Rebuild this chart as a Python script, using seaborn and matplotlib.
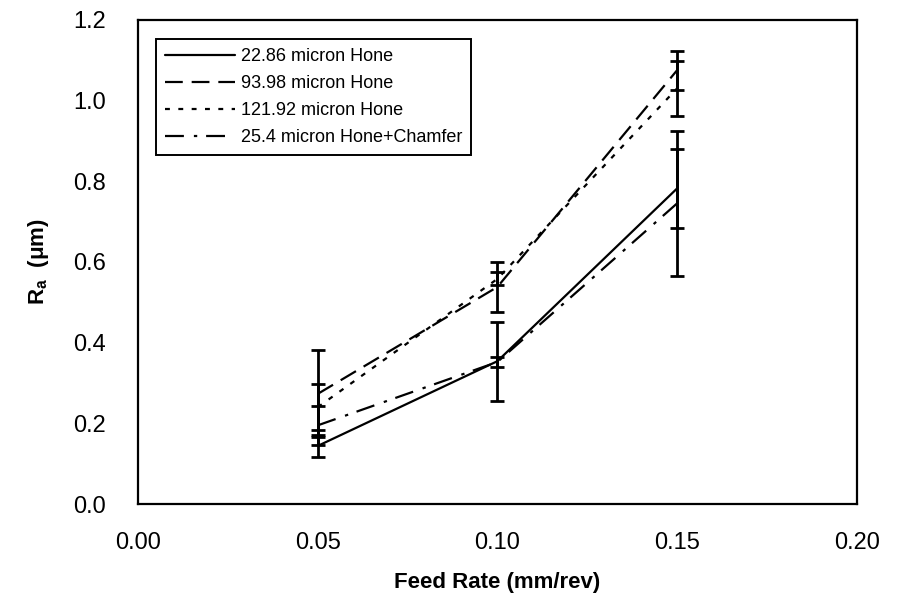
import matplotlib
matplotlib.use("Agg")
import matplotlib.pyplot as plt
import seaborn as sns
import pandas as pd
import numpy as np

# ---- data ----
feed = [0.05, 0.10, 0.15]
series = ["22.86 micron Hone", "93.98 micron Hone",
          "121.92 micron Hone", "25.4 micron Hone+Chamfer"]
ra_2286 = [0.144, 0.354, 0.782]
ra_9398 = [0.273, 0.538, 1.075]
ra_12192 = [0.240, 0.558, 1.030]
ra_254c = [0.195, 0.352, 0.745]
err_2286 = [0.028, 0.098, 0.097]
err_9398 = [0.108, 0.063, 0.048]
err_12192 = [0.057, 0.016, 0.067]
err_254c = [0.048, 0.012, 0.180]
xticks = [0.00, 0.05, 0.10, 0.15, 0.20]
yticks = [0.0, 0.2, 0.4, 0.6, 0.8, 1.0, 1.2]

values = [ra_2286, ra_9398, ra_12192, ra_254c]
errors = [err_2286, err_9398, err_12192, err_254c]

df = pd.DataFrame({
    "Feed": feed * len(series),
    "Ra": [v for vals in values for v in vals],
    "Series": [s for s in series for _ in feed],
})

sns.set_theme(style="white")
plt.rcParams["font.family"] = ["Liberation Sans", "DejaVu Sans"]
plt.rcParams["text.color"] = "black"
plt.rcParams["axes.labelcolor"] = "black"
plt.rcParams["mathtext.fontset"] = "custom"
plt.rcParams["mathtext.rm"] = "Liberation Sans:bold"
plt.rcParams["mathtext.it"] = "Liberation Sans:bold"
plt.rcParams["mathtext.bf"] = "Liberation Sans:bold"

fig = plt.figure(figsize=(8.97, 5.94), dpi=100)
ax = fig.add_axes([0.154, 0.1515, 0.801, 0.815])

dash_map = {
    series[0]: "",
    series[1]: (8, 4),
    series[2]: (2.2, 3.8),
    series[3]: (8.5, 4.5, 1.5, 4),
}
sns.lineplot(data=df, x="Feed", y="Ra", hue="Series", style="Series",
             palette=["black"] * 4, dashes=dash_map, hue_order=series,
             style_order=series, linewidth=1.6, ax=ax, legend=True)

for vals, errs in zip(values, errors):
    ax.errorbar(feed, vals, yerr=errs, fmt="none", ecolor="black",
                elinewidth=2.0, capsize=5, capthick=2.0, zorder=3)

ax.set_xlim(0.0, 0.20)
ax.set_ylim(0.0, 1.2)
ax.set_xticks(xticks)
ax.set_xticklabels([f"{t:.2f}" for t in xticks])
ax.set_yticks(yticks)
ax.set_yticklabels([f"{t:.1f}" for t in yticks])
ax.tick_params(axis="both", direction="in", length=6, width=1.2,
               labelsize=17, colors="black")
ax.tick_params(axis="y", pad=23)
ax.tick_params(axis="x", pad=20)
for sp in ax.spines.values():
    sp.set_color("black")
    sp.set_linewidth(1.6)

ax.set_xlabel("Feed Rate (mm/rev)", fontsize=16, fontweight="bold",
              labelpad=13, color="black")
ax.set_ylabel(r"R$_a$  (μm)", fontsize=16, fontweight="bold",
              labelpad=16, color="black")

handles, labels = ax.get_legend_handles_labels()
hl = [(h, l) for h, l in zip(handles, labels) if l in series]
leg = ax.legend([h for h, _ in hl], [l for _, l in hl],
                loc="upper left", bbox_to_anchor=(156 / 897, 1 - 39 / 594),
                bbox_transform=fig.transFigure, borderaxespad=0,
                fontsize=13, frameon=True, fancybox=False, framealpha=1,
                edgecolor="black", handlelength=3.9, handletextpad=0.3,
                labelspacing=0.55, borderpad=0.5, labelcolor="black")
leg.get_frame().set_linewidth(1.4)

fig.savefig("out.png", dpi=100)
